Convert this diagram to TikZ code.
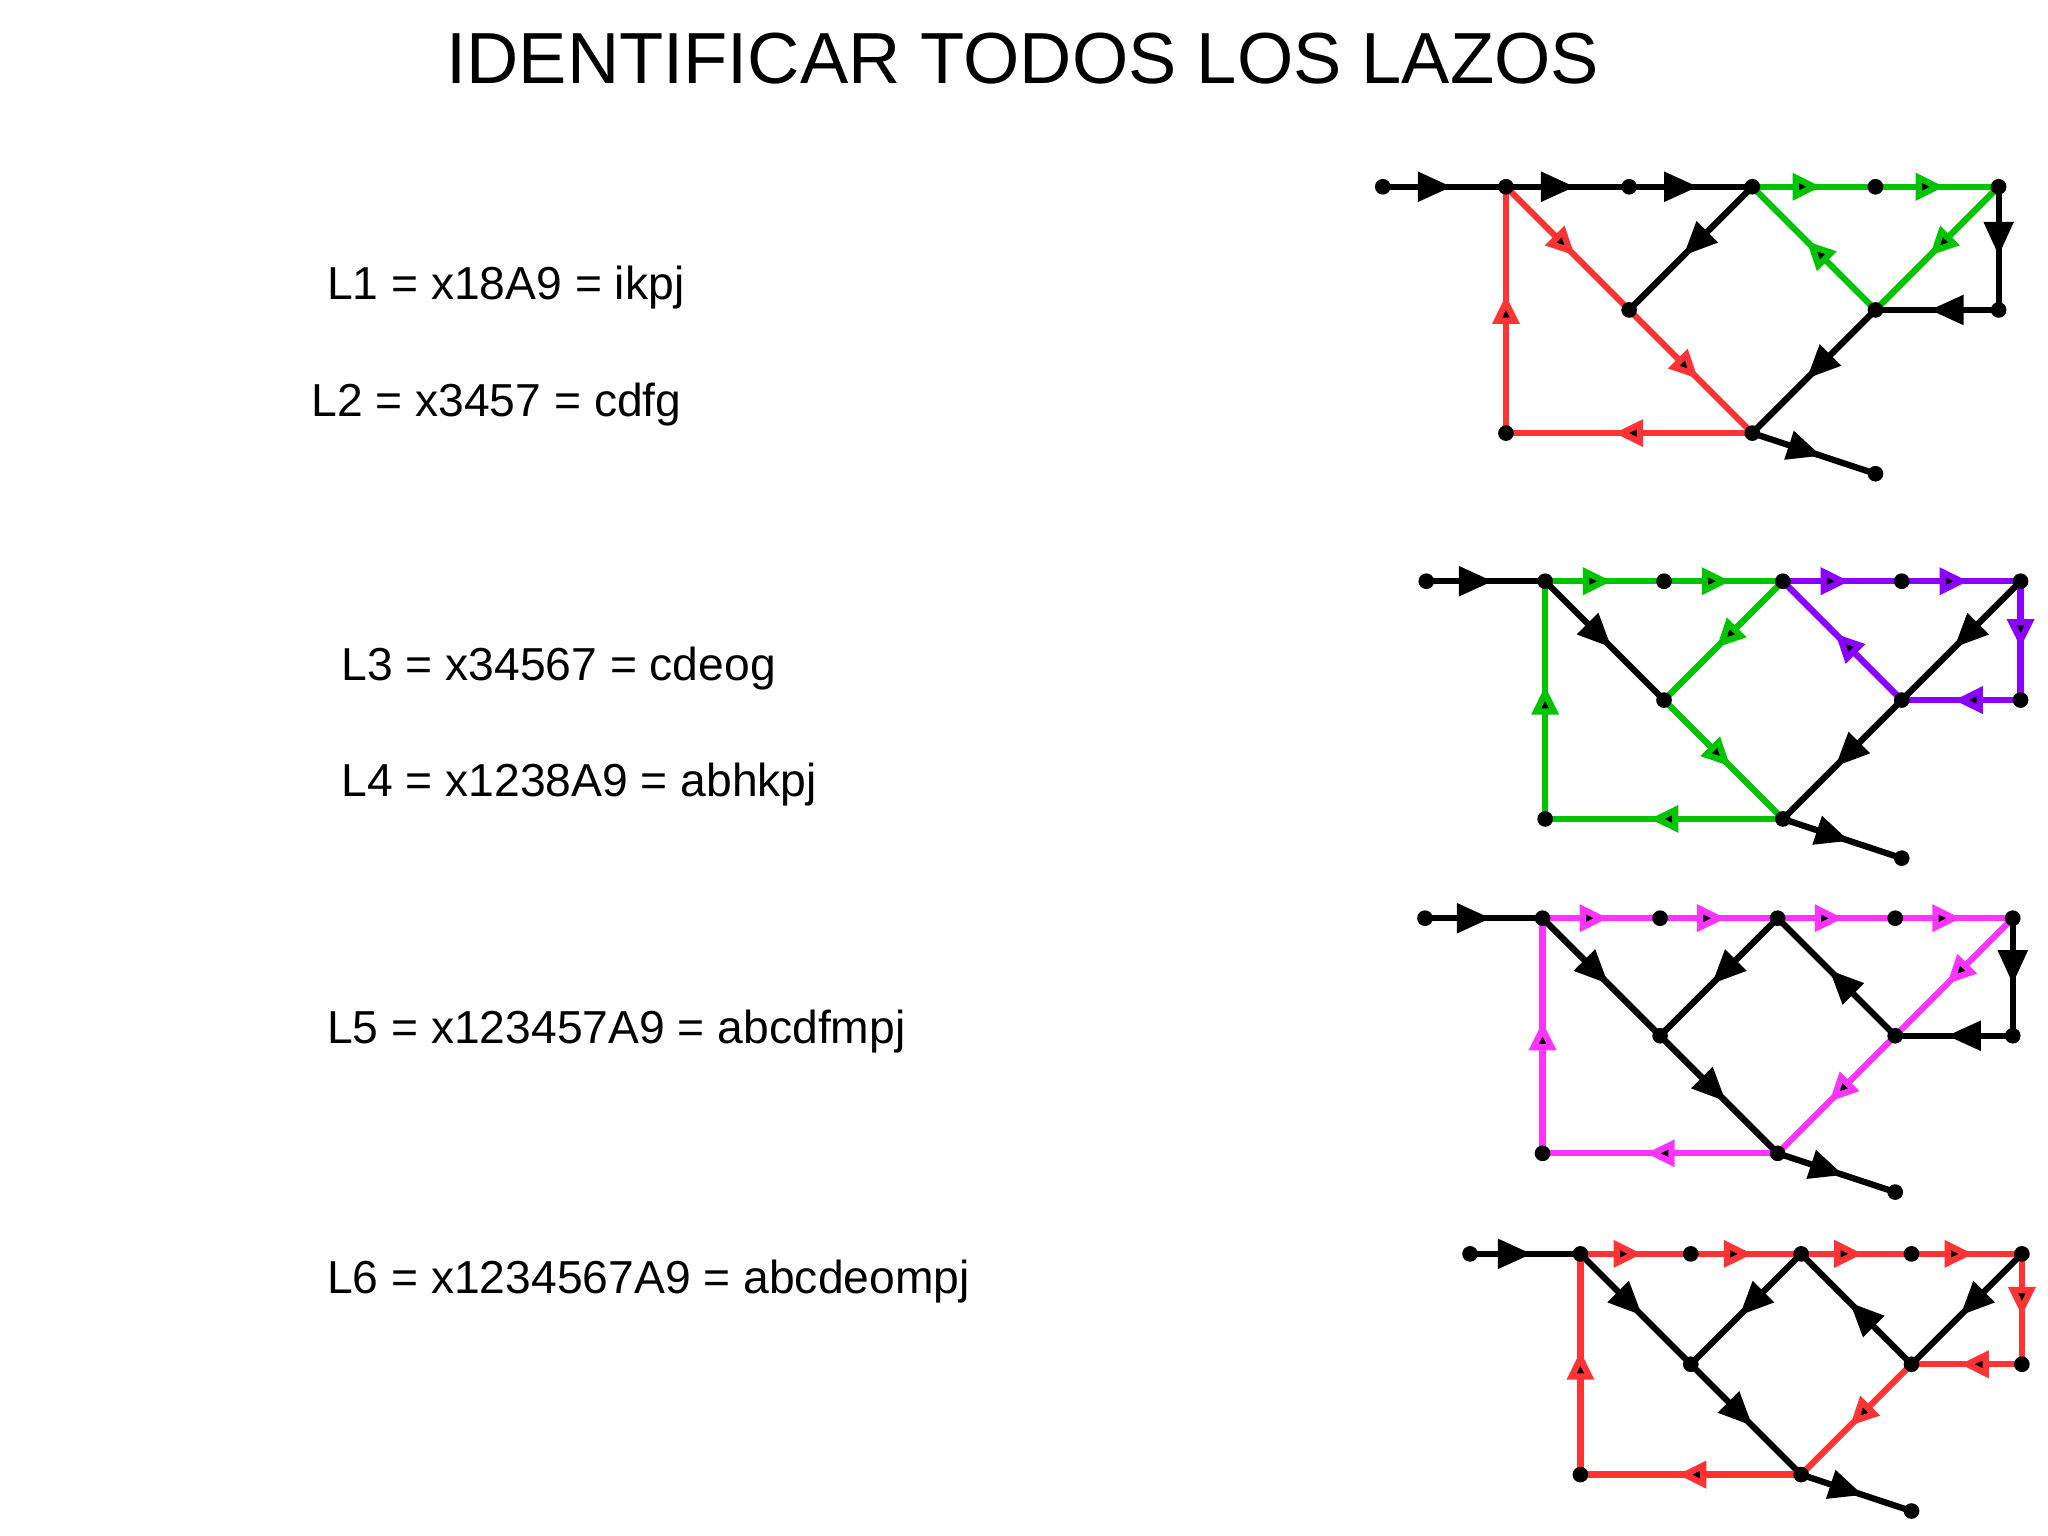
\documentclass[tikz,border=0pt]{standalone}
\usepackage{fontspec}
\setmainfont{Liberation Sans}
\usetikzlibrary{arrows.meta,decorations.markings,calc}
\definecolor{cred}{HTML}{FF3333}
\definecolor{cgreen}{HTML}{00C400}
\definecolor{cpurple}{HTML}{8B00FF}
\definecolor{cmag}{HTML}{FF33FF}
\tikzset{
  blk/.style={draw=black,line width=2.4pt,decoration={markings,mark=at position 0.56 with {\arrow{Triangle[length=13pt,width=11pt]}}},postaction=decorate},
  col/.style={draw=#1,line width=2.4pt,decoration={markings,mark=at position 0.56 with {\arrow{Triangle[length=11pt,width=10pt,fill=black]}}},postaction=decorate},
  dot/.style={circle,fill=black,inner sep=0pt,minimum size=6pt},
  lbl/.style={anchor=west,font=\fontsize{17.7pt}{21pt}\selectfont,inner sep=0pt}
}
\newcommand{\mkgraph}[4]{%
  \coordinate (#1-s) at ({#2-#4},{#3});
  \coordinate (#1-n1) at ({#2},{#3});
  \coordinate (#1-n2) at ({#2+#4},{#3});
  \coordinate (#1-n3) at ({#2+2*#4},{#3});
  \coordinate (#1-n4) at ({#2+3*#4},{#3});
  \coordinate (#1-n5) at ({#2+4*#4},{#3});
  \coordinate (#1-m1) at ({#2+#4},{#3+#4});
  \coordinate (#1-m2) at ({#2+3*#4},{#3+#4});
  \coordinate (#1-r) at ({#2+4*#4},{#3+#4});
  \coordinate (#1-b1) at ({#2},{#3+2*#4});
  \coordinate (#1-b2) at ({#2+2*#4},{#3+2*#4});
  \coordinate (#1-o) at ({#2+3*#4},{#3+2.33*#4});
}
\newcommand{\gdots}[1]{%
  \foreach \q in {s,n1,n2,n3,n4,n5,m1,m2,r,b1,b2,o}{\node[dot] at (#1-\q) {};}
}
\newcommand{\E}[4]{\path[#1] (#2-#3) -- (#2-#4);}
\begin{document}
\begin{tikzpicture}[x=0.5pt,y=-0.5pt]
\useasboundingbox (0,0) rectangle (1568,1176);
\node[font=\fontsize{27.7pt}{31pt}\selectfont,inner sep=0pt] (title) at (783,45) {IDENTIFICAR TODOS LOS LAZOS};
\node[lbl] (l1) at (250,220) {L1 = x18A9 = ikpj};
\node[lbl] (l2) at (238,310) {L2 = x3457 = cdfg};
\node[lbl] (l3) at (261,512) {L3 = x34567 = cdeog};
\node[lbl] (l4) at (261,601) {L4 = x1238A9 = abhkpj};
\node[lbl] (l5) at (250,790) {L5 = x123457A9 = abcdfmpj};
\node[lbl] (l6) at (250,981) {L6 = x1234567A9 = abcdeompj};
% graph 1
\mkgraph{a}{1153}{143}{94.3}
\foreach \u/\v in {s/n1,n1/n2,n2/n3,n3/m1,n5/r,r/m2,m2/b2,b2/o}{\E{blk}{a}{\u}{\v}}
\foreach \u/\v in {n3/n4,n4/n5,n5/m2,m2/n3}{\E{col=cgreen}{a}{\u}{\v}}
\foreach \u/\v in {n1/m1,m1/b2,b2/b1,b1/n1}{\E{col=cred}{a}{\u}{\v}}
\gdots{a}
% graph 2
\mkgraph{b}{1183}{445}{91}
\foreach \u/\v in {s/n1,n1/m1,n5/m2,m2/b2,b2/o}{\E{blk}{b}{\u}{\v}}
\foreach \u/\v in {n1/n2,n2/n3,n3/m1,m1/b2,b2/b1,b1/n1}{\E{col=cgreen}{b}{\u}{\v}}
\foreach \u/\v in {n3/n4,n4/n5,n5/r,r/m2,m2/n3}{\E{col=cpurple}{b}{\u}{\v}}
\gdots{b}
% graph 3
\mkgraph{c}{1181}{703}{90}
\foreach \u/\v in {s/n1,n1/m1,m1/b2,n3/m1,m2/n3,n5/r,r/m2,b2/o}{\E{blk}{c}{\u}{\v}}
\foreach \u/\v in {n1/n2,n2/n3,n3/n4,n4/n5,n5/m2,m2/b2,b2/b1,b1/n1}{\E{col=cmag}{c}{\u}{\v}}
\gdots{c}
% graph 4
\mkgraph{d}{1210}{960}{84.5}
\foreach \u/\v in {s/n1,n1/m1,m1/b2,n3/m1,m2/n3,n5/m2,b2/o}{\E{blk}{d}{\u}{\v}}
\foreach \u/\v in {n1/n2,n2/n3,n3/n4,n4/n5,n5/r,r/m2,m2/b2,b2/b1,b1/n1}{\E{col=cred}{d}{\u}{\v}}
\gdots{d}
\end{tikzpicture}
\end{document}
